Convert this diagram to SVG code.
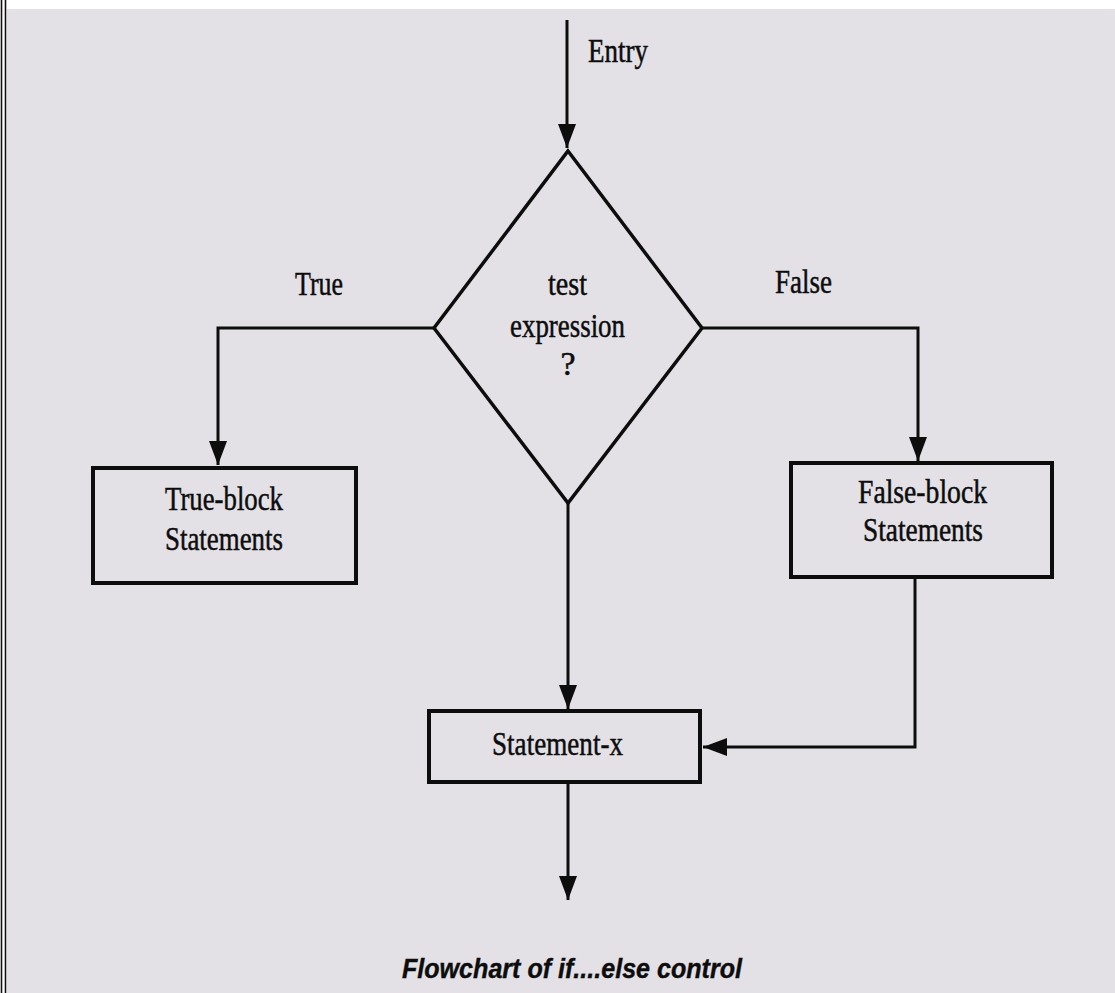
<svg xmlns="http://www.w3.org/2000/svg" width="1115" height="993" viewBox="0 0 1115 993">
  <style>
    .lbl { font-family: "Liberation Serif", "Times New Roman", serif; font-size: 34px; fill: #0d0d0d; stroke: #0d0d0d; stroke-width: 0.5; }
    .box { fill: none; stroke: #0d0d0d; stroke-width: 4; }
    .dia { fill: none; stroke: #0d0d0d; stroke-width: 3.5; stroke-linejoin: miter; }
    .con { fill: none; stroke: #0d0d0d; stroke-width: 3; }
    .cap { font-family: "Liberation Sans", Arial, sans-serif; font-size: 27px; font-weight: bold; font-style: italic; fill: #0d0d0d; stroke: #0d0d0d; stroke-width: 0.4; }
  </style>
  <defs>
    <marker id="arr" viewBox="0 0 24 18" markerWidth="24" markerHeight="18" refX="24" refY="9" orient="auto" markerUnits="userSpaceOnUse">
      <path d="M0,0 L24,9 L0,18 z" fill="#0d0d0d"/>
    </marker>
  </defs>

  <rect x="0" y="0" width="1115" height="993" fill="#ffffff"/>
  <rect x="7" y="9" width="1108" height="984" fill="#e3e1e6"/>
  <line x1="1.5" y1="0" x2="1.5" y2="993" stroke="#111" stroke-width="1.6"/>
  <line x1="5.5" y1="0" x2="5.5" y2="993" stroke="#111" stroke-width="1.6"/>

  <g id="connectors">
    <path class="con" d="M567,20 V148" marker-end="url(#arr)"/>
    <path class="con" d="M434,328 H218 V465" marker-end="url(#arr)"/>
    <path class="con" d="M702,328 H918 V461" marker-end="url(#arr)"/>
    <path class="con" d="M568,503 V709" marker-end="url(#arr)"/>
    <path class="con" d="M915,577 V747 H703" marker-end="url(#arr)"/>
    <path class="con" d="M568,782 V900" marker-end="url(#arr)"/>
  </g>

  <g id="labels">
    <text class="lbl" x="588" y="62" textLength="60" lengthAdjust="spacingAndGlyphs">Entry</text>
    <text class="lbl" x="295" y="295" textLength="48" lengthAdjust="spacingAndGlyphs">True</text>
    <text class="lbl" x="775" y="293" textLength="57" lengthAdjust="spacingAndGlyphs">False</text>
  </g>

  <g id="decision">
    <polygon class="dia" points="568,151 702,328 568,503 434,328"/>
    <text class="lbl" x="548" y="295" textLength="39" lengthAdjust="spacingAndGlyphs">test</text>
    <text class="lbl" x="510" y="337" textLength="115" lengthAdjust="spacingAndGlyphs">expression</text>
    <text class="lbl" x="568" y="375" text-anchor="middle">?</text>
  </g>

  <g id="true-block">
    <rect class="box" x="93" y="468" width="263" height="115"/>
    <text class="lbl" x="165" y="510" textLength="118" lengthAdjust="spacingAndGlyphs">True-block</text>
    <text class="lbl" x="165" y="550" textLength="118" lengthAdjust="spacingAndGlyphs">Statements</text>
  </g>

  <g id="false-block">
    <rect class="box" x="791" y="463" width="261" height="114"/>
    <text class="lbl" x="858" y="503" textLength="129" lengthAdjust="spacingAndGlyphs">False-block</text>
    <text class="lbl" x="863" y="541" textLength="120" lengthAdjust="spacingAndGlyphs">Statements</text>
  </g>

  <g id="statement-x">
    <rect class="box" x="429" y="711" width="271" height="71"/>
    <text class="lbl" x="492" y="755" textLength="131" lengthAdjust="spacingAndGlyphs">Statement-x</text>
  </g>

  <g id="caption">
    <text class="cap" x="402" y="978" textLength="340" lengthAdjust="spacingAndGlyphs">Flowchart of if....else control</text>
  </g>
</svg>
